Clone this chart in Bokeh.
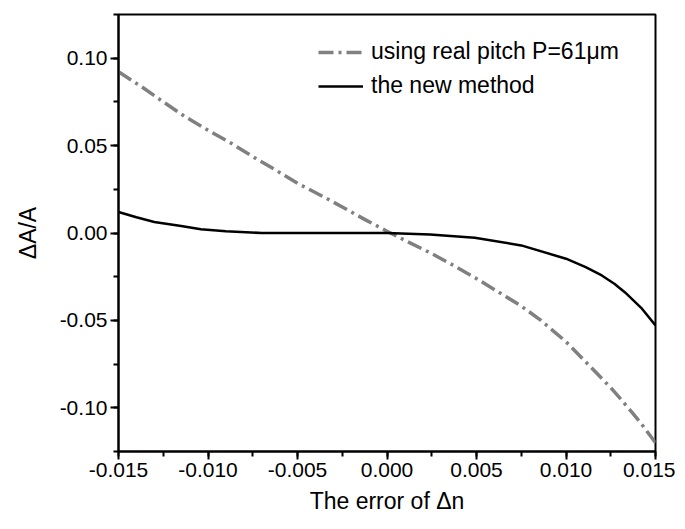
from bokeh.plotting import figure
from bokeh.models import SingleIntervalTicker, PrintfTickFormatter, Legend, LegendItem, Range1d
from bokeh.embed import file_html
from bokeh.resources import INLINE

# Data
x_real = [-0.015, -0.0137, -0.0125, -0.0113, -0.010, -0.0087, -0.0075, -0.0062, -0.005, -0.0036,
          -0.0025, -0.0012, 0.0, 0.0012, 0.0025, 0.0037, 0.005, 0.0062, 0.0075, 0.0086,
          0.010, 0.0112, 0.0125, 0.0131, 0.0137, 0.0142, 0.015]
y_real = [0.0922, 0.0836, 0.0750, 0.0667, 0.0588, 0.0513, 0.0437, 0.0359, 0.0284, 0.0210,
          0.0149, 0.0075, 0.001, -0.0052, -0.0118, -0.0185, -0.0261, -0.0336, -0.0418, -0.0500,
          -0.0622, -0.0748, -0.0885, -0.0955, -0.1028, -0.1090, -0.1200]

x_new = [-0.015, -0.014, -0.013, -0.0115, -0.0104, -0.009, -0.007, 0.0, 0.0024, 0.0049,
         0.0075, 0.010, 0.0111, 0.0120, 0.0127, 0.0133, 0.0142, 0.015]
y_new = [0.0120, 0.0090, 0.0063, 0.0040, 0.0022, 0.0010, 0.0, 0.0, -0.0008, -0.0027,
         -0.0071, -0.0147, -0.0195, -0.0243, -0.0290, -0.0340, -0.0428, -0.0529]

label_real = "using real pitch P=61\u03bcm"
label_new = "the new method"

FONT = "Liberation Sans"

p = figure(width=675, height=521, output_backend="svg", toolbar_location=None,
           x_range=Range1d(-0.015, 0.015), y_range=Range1d(-0.125, 0.125),
           min_border_left=118, min_border_right=20, min_border_top=14, min_border_bottom=70)

p.grid.visible = False
p.outline_line_color = "black"
p.outline_line_width = 2
p.outline_line_alpha = 1.0
p.background_fill_color = "white"
p.border_fill_color = "white"

r1 = p.line(x_real, y_real, line_color="#808080", line_width=3.5, line_dash="15 5 3 5",
            line_join="round")
r2 = p.line(x_new, y_new, line_color="black", line_width=2.5, line_join="round")

p.xaxis.ticker = SingleIntervalTicker(interval=0.005, num_minor_ticks=2)
p.yaxis.ticker = SingleIntervalTicker(interval=0.05, num_minor_ticks=2)
p.xaxis.formatter = PrintfTickFormatter(format="%.3f")
p.yaxis.formatter = PrintfTickFormatter(format="%.2f")

for ax in (p.xaxis[0], p.yaxis[0]):
    ax.axis_line_width = 2
    ax.axis_line_color = "black"
    ax.major_tick_line_width = 2
    ax.minor_tick_line_width = 2
    ax.major_tick_out = 8
    ax.major_tick_in = 0
    ax.minor_tick_out = 5
    ax.minor_tick_in = 0
    ax.major_label_text_font = FONT
    ax.major_label_text_font_size = "21px"
    ax.major_label_text_color = "black"
    ax.axis_label_text_font = FONT
    ax.axis_label_text_font_size = "23px"
    ax.axis_label_text_font_style = "normal"
    ax.axis_label_text_color = "black"
    ax.major_label_standoff = 3

p.xaxis.axis_label = "The error of \u0394n"
p.yaxis.axis_label = "\u0394A/A"
p.xaxis.axis_label_standoff = 8
p.yaxis.axis_label_standoff = 16

legend = Legend(items=[LegendItem(label=label_real, renderers=[r1]),
                       LegendItem(label=label_new, renderers=[r2])],
                location=(200, 352))
legend.border_line_color = None
legend.background_fill_alpha = 0
legend.padding = 0
legend.margin = 0
legend.spacing = 7
legend.glyph_width = 45
legend.glyph_height = 24
legend.label_height = 24
legend.label_standoff = 8
legend.label_text_font = FONT
legend.label_text_font_size = "23px"
legend.label_text_color = "black"
p.add_layout(legend)

open("out.html", "w").write(file_html(p, INLINE))
